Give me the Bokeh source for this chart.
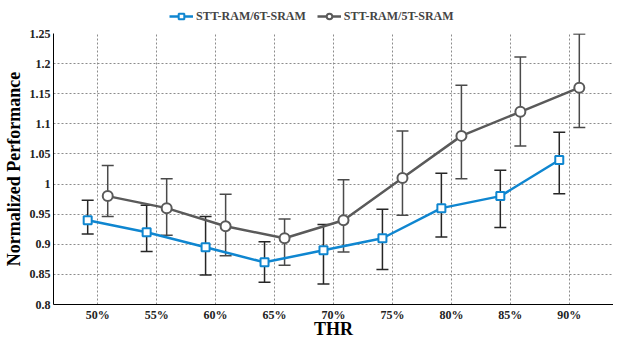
from bokeh.plotting import figure
from bokeh.layouts import column
from bokeh.models import (ColumnDataSource, FactorRange, Whisker, TeeHead, Legend, LegendItem,
                          FixedTicker, CustomJSTickFormatter, Range1d)
from bokeh.transform import dodge
from bokeh.embed import file_html
from bokeh.resources import INLINE

categories = ["50%", "55%", "60%", "65%", "70%", "75%", "80%", "85%", "90%"]
sram6_perf = [0.94, 0.92, 0.895, 0.87, 0.89, 0.91, 0.96, 0.98, 1.04]
sram6_upper = [0.973, 0.965, 0.946, 0.904, 0.933, 0.958, 1.018, 1.023, 1.086]
sram6_lower = [0.917, 0.888, 0.849, 0.837, 0.834, 0.858, 0.912, 0.928, 0.984]
sram5_perf = [0.98, 0.96, 0.93, 0.91, 0.94, 1.01, 1.08, 1.12, 1.16]
sram5_upper = [1.031, 1.009, 0.983, 0.942, 1.007, 1.088, 1.164, 1.211, 1.249]
sram5_lower = [0.946, 0.915, 0.881, 0.865, 0.887, 0.948, 1.009, 1.063, 1.094]
y_ticks = [0.8, 0.85, 0.9, 0.95, 1.0, 1.05, 1.1, 1.15, 1.2, 1.25]
series_names = ["STT-RAM/6T-SRAM", "STT-RAM/5T-SRAM"]

BLUE = "#0f86d0"
GREY = "#5a5a5a"
FONT = "Liberation Serif"

src6 = ColumnDataSource(dict(cat=categories, y=sram6_perf, hi=sram6_upper, lo=sram6_lower))
src5 = ColumnDataSource(dict(cat=categories, y=sram5_perf, hi=sram5_upper, lo=sram5_lower))

# ---- legend strip on top (its series lie outside its visible range) ----
lg = figure(width=613, height=26,
            x_range=FactorRange(factors=categories), y_range=Range1d(10, 11),
            output_backend="svg", toolbar_location=None, min_border=0)
lg.outline_line_color = None
lg.axis.visible = False
lg.grid.visible = False
ll6 = lg.line(x="cat", y="y", source=src6, line_color=BLUE, line_width=2.5)
lm6 = lg.scatter(x="cat", y="y", source=src6, marker="square", size=8, fill_color="white",
                 line_color=BLUE, line_width=2)
ll5 = lg.line(x="cat", y="y", source=src5, line_color=GREY, line_width=2.5)
lm5 = lg.scatter(x="cat", y="y", source=src5, marker="circle", size=10, fill_color="white",
                 line_color=GREY, line_width=2)
legend = Legend(items=[LegendItem(label=series_names[0], renderers=[ll6, lm6]),
                       LegendItem(label=series_names[1], renderers=[ll5, lm5])],
                orientation="horizontal", location=(116, 2),
                border_line_color=None, background_fill_alpha=0,
                label_text_font=FONT, label_text_font_style="bold", label_text_font_size="12px",
                label_height=16, glyph_width=24, glyph_height=14, label_standoff=3, spacing=11,
                padding=0, margin=0)
lg.add_layout(legend, "center")

# ---- main plot ----
p = figure(width=613, height=315,
           x_range=FactorRange(factors=categories, range_padding=0.25, range_padding_units="absolute"),
           y_range=Range1d(0.8, 1.25),
           output_backend="svg", toolbar_location=None,
           min_border_left=46, min_border_right=0, min_border_top=7, min_border_bottom=20)
p.outline_line_color = None
p.background_fill_color = "white"

x6 = dodge("cat", -0.17, range=p.x_range)
x5 = dodge("cat", 0.17, range=p.x_range)

w6 = Whisker(source=src6, base=x6, upper="hi", lower="lo", line_color="#262626", line_width=1.5,
             upper_head=TeeHead(size=12, line_color="#262626", line_width=1.5),
             lower_head=TeeHead(size=12, line_color="#262626", line_width=1.5), level="underlay")
w5 = Whisker(source=src5, base=x5, upper="hi", lower="lo", line_color="#4a4a4a", line_width=1.5,
             upper_head=TeeHead(size=12, line_color="#4a4a4a", line_width=1.5),
             lower_head=TeeHead(size=12, line_color="#4a4a4a", line_width=1.5), level="underlay")
p.add_layout(w6)
p.add_layout(w5)

p.line(x=x6, y="y", source=src6, line_color=BLUE, line_width=2.5)
p.line(x=x5, y="y", source=src5, line_color=GREY, line_width=2.5)
p.scatter(x=x6, y="y", source=src6, marker="square", size=8, fill_color="white",
          line_color=BLUE, line_width=2)
p.scatter(x=x5, y="y", source=src5, marker="circle", size=10, fill_color="white",
          line_color=GREY, line_width=2)

for ax in (p.xaxis, p.yaxis):
    ax.axis_line_color = "black"
    ax.axis_line_width = 1
    ax.major_tick_out = 0
    ax.major_tick_in = 0
    ax.minor_tick_out = 0
    ax.minor_tick_in = 0
    ax.major_label_text_font = FONT
    ax.major_label_text_font_style = "bold"
    ax.major_label_text_font_size = "12px"
    ax.major_label_text_color = "#222222"
    ax.axis_label_text_font = FONT
    ax.axis_label_text_font_style = "bold"
    ax.axis_label_text_color = "black"

p.yaxis.ticker = FixedTicker(ticks=y_ticks)
p.yaxis.formatter = CustomJSTickFormatter(code="return tick.toFixed(2).replace(/0+$/, '').replace(/\\.$/, '');")
p.yaxis.major_label_standoff = 3
p.yaxis.axis_label = "Normalized Performance"
p.yaxis.axis_label_text_font_size = "18px"
p.yaxis.axis_label_standoff = 3
p.xaxis.axis_label = "THR"
p.xaxis.axis_label_text_font_size = "18px"
p.xaxis.axis_label_standoff = -6
p.xaxis.major_label_standoff = 3

p.xgrid.grid_line_color = "#8c8c8c"
p.xgrid.grid_line_dash = "2 2"
p.ygrid.grid_line_color = "#8c8c8c"
p.ygrid.grid_line_dash = "2 2"
p.ygrid.ticker = FixedTicker(ticks=y_ticks)

layout = column(lg, p, spacing=0)
open("out.html", "w").write(file_html(layout, INLINE))
